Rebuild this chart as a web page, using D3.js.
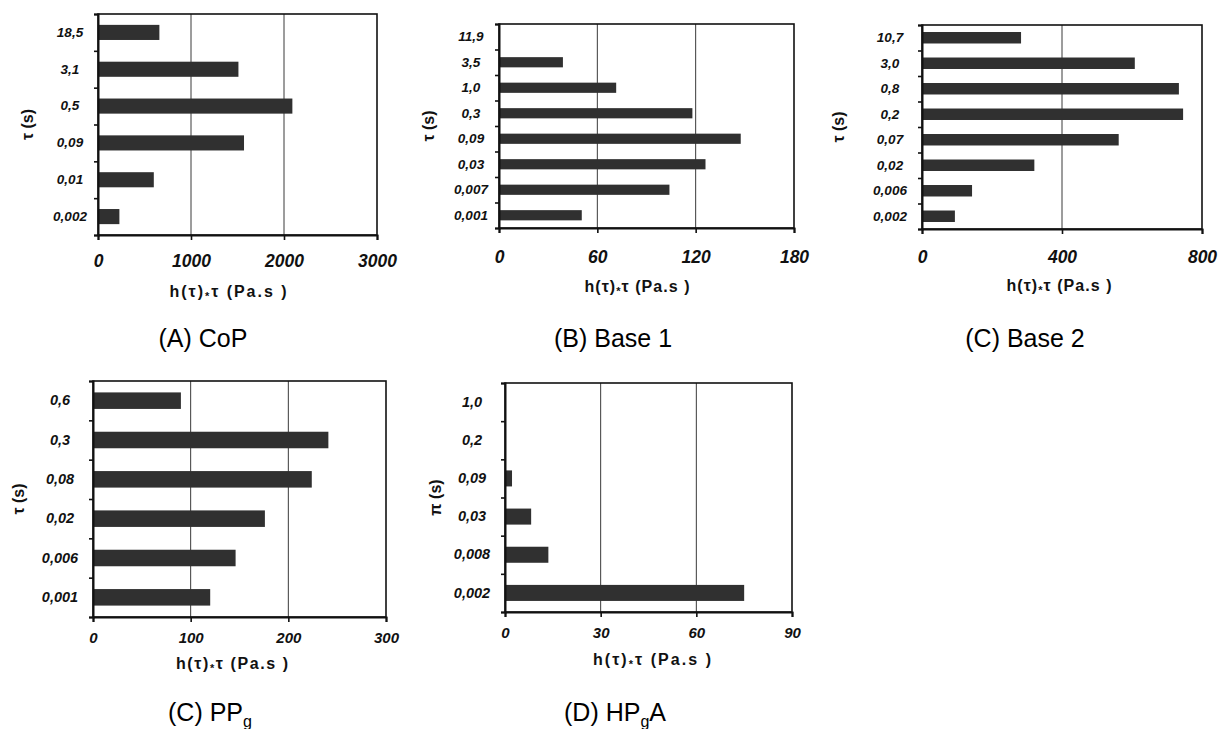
<!DOCTYPE html>
<html><head><meta charset="utf-8">
<script src="https://cdn.jsdelivr.net/npm/d3@7"></script>
<style>
html,body{margin:0;padding:0;background:#fff;}
svg{display:block;}
</style></head>
<body>
<svg id="chart" width="1220" height="729"></svg>
<script>
// ---- data ----
const catsA = ["18,5","3,1","0,5","0,09","0,01","0,002"];
const valsA = [660,1510,2090,1570,600,230];
const ticksA = [0,1000,2000,3000];

const catsB = ["11,9","3,5","1,0","0,3","0,09","0,03","0,007","0,001"];
const valsB = [0,39,71.5,118,147.5,126,104,50.5];
const ticksB = [0,60,120,180];

const catsC = ["10,7","3,0","0,8","0,2","0,07","0,02","0,006","0,002"];
const valsC = [283,608,734,746,562,321,143,94];
const ticksC = [0,400,800];

const catsD = ["0,6","0,3","0,08","0,02","0,006","0,001"];
const valsD = [90,241,224,176,146,120];
const ticksD = [0,100,200,300];

const catsE = ["1,0","0,2","0,09","0,03","0,008","0,002"];
const valsE = [0,0,2.2,8.2,13.6,75];
const ticksE = [0,30,60,90];

const captions = [
  {parts:[["(A) CoP",false]]},
  {parts:[["(B) Base 1",false]]},
  {parts:[["(C) Base 2",false]]},
  {parts:[["(C) PP",false],["g",true]]},
  {parts:[["(D) HP",false],["g",true],["A",false]]}
];
const yTitles = ["τ (s)","τ (s)","τ (s)","τ (s)","π (s)"];

// ---- layout ----
const panels = [
  {cats:catsA, vals:valsA, ticks:ticksA, L:98, R:377, T:14, B:235, pad:0.59, labX:70, ytX:27, tickBase:267, tickFs:17.5, labFs:13.5, xtX:228, xtBase:297, xtLen:117, capX:203, capBase:347},
  {cats:catsB, vals:valsB, ticks:ticksB, L:499, R:794, T:24, B:228, pad:0.60, labX:471, ytX:428, tickBase:263, tickFs:17.5, labFs:13.5, xtX:637, xtBase:292, xtLen:105, capX:613, capBase:347},
  {cats:catsC, vals:valsC, ticks:ticksC, L:922, R:1202, T:25, B:229, pad:0.55, labX:890, ytX:838, tickBase:263, tickFs:17.5, labFs:13.5, xtX:1059, xtBase:291, xtLen:105, capX:1025, capBase:347},
  {cats:catsD, vals:valsD, ticks:ticksD, L:93, R:386, T:381, B:617, pad:0.58, labX:60, ytX:18, tickBase:643, tickFs:15, labFs:14.5, xtX:232, xtBase:669, xtLen:112, capX:210, capBase:721},
  {cats:catsE, vals:valsE, ticks:ticksE, L:505, R:792, T:383, B:612, pad:0.58, labX:472, ytX:435, tickBase:638, tickFs:15, labFs:14.5, xtX:652, xtBase:665, xtLen:118, capX:615, capBase:721}
];

const svg = d3.select("#chart");
const FONT = "'Liberation Sans', Arial, Helvetica, sans-serif";

panels.forEach((p, i) => {
  const g = svg.append("g");
  const x = d3.scaleLinear().domain([p.ticks[0], p.ticks[p.ticks.length-1]]).range([p.L, p.R]);
  const y = d3.scaleBand().domain(p.cats).range([p.T, p.B]).paddingInner(p.pad).paddingOuter(p.pad/2);
  const yIdx = d3.scaleLinear().domain([0, p.cats.length]).range([p.T, p.B]);

  // gridlines (interior ticks)
  g.selectAll("line.grid").data(p.ticks.slice(1, -1)).enter().append("line")
    .attr("x1", d => x(d)).attr("x2", d => x(d))
    .attr("y1", p.T).attr("y2", p.B)
    .attr("stroke", "#3a3a3a").attr("stroke-width", 1);

  // bars
  g.selectAll("rect.bar").data(p.cats.map((c, k) => ({c, v: p.vals[k]}))).enter().append("rect")
    .attr("x", x(0)).attr("y", d => y(d.c))
    .attr("width", d => Math.max(0, x(d.v) - x(0)))
    .attr("height", y.bandwidth())
    .attr("fill", "#303030");

  // frame
  g.append("rect").attr("x", p.L).attr("y", p.T).attr("width", p.R - p.L).attr("height", p.B - p.T)
    .attr("fill", "none").attr("stroke", "#111").attr("stroke-width", 1.6);

  // x axis
  const xa = g.append("g").attr("transform", `translate(0,${p.B})`)
    .call(d3.axisBottom(x).tickValues(p.ticks).tickSize(5).tickFormat(d3.format("d")));
  xa.select(".domain").attr("stroke", "#111").attr("stroke-width", 2);
  xa.selectAll(".tick line").attr("stroke", "#111").attr("stroke-width", 1.6);
  xa.selectAll(".tick text")
    .attr("y", p.tickBase - p.B).attr("dy", 0)
    .attr("font-family", FONT).attr("font-size", p.tickFs)
    .attr("font-weight", "bold").attr("font-style", "italic").attr("fill", "#111");

  // y axis boundary ticks
  const yb = g.append("g").attr("transform", `translate(${p.L},0)`)
    .call(d3.axisLeft(yIdx).ticks(p.cats.length).tickSize(4).tickFormat(""));
  yb.select(".domain").attr("stroke", "#111").attr("stroke-width", 2);
  yb.selectAll(".tick line").attr("stroke", "#111").attr("stroke-width", 1.6);

  // y category labels
  const yl = g.append("g").attr("transform", `translate(${p.labX},0)`)
    .call(d3.axisLeft(y).tickSize(0).tickPadding(0));
  yl.select(".domain").remove();
  yl.selectAll(".tick text")
    .attr("x", 0).attr("text-anchor", "middle")
    .attr("font-family", FONT).attr("font-size", p.labFs)
    .attr("font-weight", "bold").attr("font-style", "italic").attr("fill", "#111");

  // y title
  g.append("text")
    .attr("transform", `translate(${p.ytX},${(p.T + p.B) / 2}) rotate(-90)`)
    .attr("text-anchor", "middle").attr("dy", "0.35em")
    .attr("font-family", FONT).attr("font-size", 16).attr("font-weight", "bold").attr("fill", "#111")
    .text(yTitles[i]);

  // x title
  const xt = g.append("text")
    .attr("x", p.xtX - p.xtLen / 2).attr("y", p.xtBase)
    .attr("text-anchor", "start")
    .attr("textLength", p.xtLen).attr("lengthAdjust", "spacing")
    .attr("font-family", FONT).attr("font-size", 16).attr("font-weight", "bold").attr("fill", "#111");
  xt.append("tspan").text("h(τ)");
  xt.append("tspan").attr("font-size", 11).attr("dy", 3).text("*");
  xt.append("tspan").attr("dy", -3).text("τ (Pa.s )");

  // caption
  const cap = g.append("text")
    .attr("x", p.capX).attr("y", p.capBase).attr("text-anchor", "middle")
    .attr("font-family", FONT).attr("font-size", 25).attr("fill", "#000");
  captions[i].parts.forEach(([t, sub]) => {
    const ts = cap.append("tspan").text(t);
    if (sub) ts.attr("font-size", 16).attr("dy", 6);
    else if (cap.selectAll("tspan").size() > 1) ts.attr("dy", -6);
  });
});
</script>
</body></html>
